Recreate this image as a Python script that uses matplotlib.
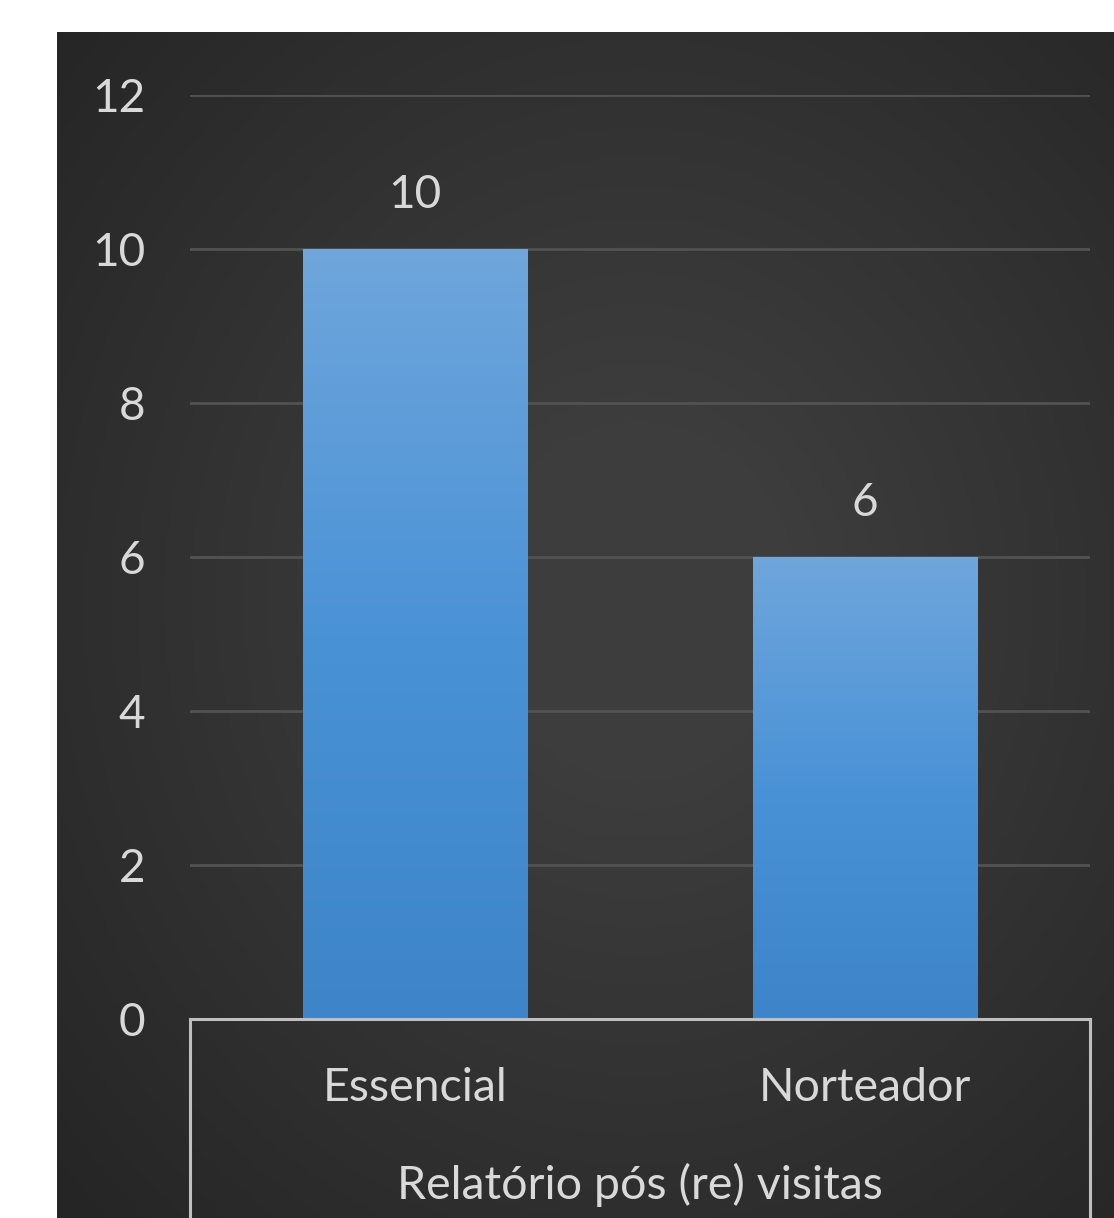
import numpy as np
import matplotlib
matplotlib.use('Agg')
import matplotlib.pyplot as plt

# chart data
categories = ['Essencial', 'Norteador']
values = [10, 6]
group_label = 'Relatório pós (re) visitas'
yticks = [0, 2, 4, 6, 8, 10, 12]

plt.rcParams['font.family'] = ['Lato', 'DejaVu Sans']
txt_color = '#d9d9d9'
fs = 33

W, H = 1114, 1218
fig = plt.figure(figsize=(W / 100, H / 100), dpi=100, facecolor='white')

# dark panel with radial shading
bg = fig.add_axes([57 / W, 0, 1 - 57 / W, (H - 32) / H])
bg.set_axis_off()
yy, xx = np.mgrid[0:1:300j, 0:1:300j]
r = np.sqrt(((xx - 0.55) / 0.75) ** 2 + ((yy - 0.48) / 0.75) ** 2)
shade = np.clip(1 - r, 0, 1)
bg.imshow(shade, cmap=matplotlib.colors.LinearSegmentedColormap.from_list(
    'bgc', ['#252525', '#3d3d3d']), aspect='auto', extent=[0, 1, 0, 1],
    vmin=0, vmax=0.8)
bg.set_xlim(0, 1)
bg.set_ylim(0, 1)

# main axes
ax = fig.add_axes([190 / W, (H - 1019) / H, 900 / W, 924 / H])
ax.patch.set_alpha(0)
ax.set_xlim(-0.5, 1.5)
ax.set_ylim(0, 12)
ax.set_yticks(yticks)
ax.set_yticklabels([str(t) for t in yticks], color=txt_color, fontsize=fs)
ax.tick_params(axis='y', length=0, pad=32)
ax.set_xticks([])
for s in ax.spines.values():
    s.set_visible(False)
ax.grid(axis='y', color='#525252', linewidth=2)
ax.set_axisbelow(True)

bar_cmap = matplotlib.colors.LinearSegmentedColormap.from_list(
    'barc', ['#3d85c8', '#4a92d6', '#6fa6dc'])
bars = ax.bar(range(len(categories)), values, width=0.5, color='none', zorder=2)
for b, v in zip(bars, values):
    x0 = b.get_x()
    grad = np.linspace(0, 1, 256).reshape(-1, 1)
    im = ax.imshow(grad, cmap=bar_cmap, origin='lower', aspect='auto',
                   extent=[x0, x0 + b.get_width(), 0, v], zorder=2)
    im.set_clip_path(b)
    ax.text(b.get_x() + b.get_width() / 2, v + 0.70, str(v), ha='center',
            va='center', color=txt_color, fontsize=fs)
ax.set_xlim(-0.5, 1.5)
ax.set_ylim(0, 12)

# category box below the axis
box_c = '#bfbfbf'
ax.plot([-0.5, 1.5], [0, 0], color=box_c, lw=2.2, clip_on=False, zorder=3)
ax.plot([-0.5, -0.5], [0, -3], color=box_c, lw=2.2, clip_on=False, zorder=3)
ax.plot([1.5, 1.5], [0, -3], color=box_c, lw=2.2, clip_on=False, zorder=3)
for i, c in enumerate(categories):
    ax.text(i, -0.89, c, ha='center', va='center', color=txt_color,
            fontsize=fs + 0.5, clip_on=False)
ax.text(0.5, -2.16, group_label, ha='center', va='center', color=txt_color,
        fontsize=fs + 0.5, clip_on=False)

fig.savefig('out.png', dpi=100, facecolor='white')
